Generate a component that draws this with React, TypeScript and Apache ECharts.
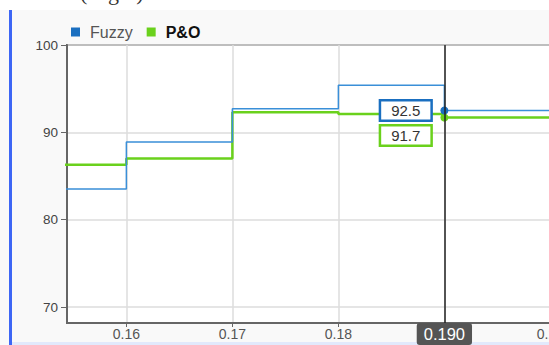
import React, { useEffect, useRef } from "react";
import * as echarts from "echarts";

// Duty-cycle step (x) vs. efficiency (%) for the two MPPT controllers
const dutyValues = [0.15, 0.16, 0.17, 0.18, 0.19, 0.21];
const fuzzyValues = [83.5, 88.9, 92.7, 95.4, 92.5, 92.5];
const poValues = [86.3, 87.0, 92.3, 92.1, 91.7, 91.7];
const xTicks = [0.16, 0.17, 0.18, 0.19, 0.2];
// the 0.19 tick text sits under the cursor's own label
const xTickLabels = [0.16, 0.17, 0.18, 0.2];
const yTicks = [70, 80, 90, 100];
const cursorX = 0.19;

const FUZZY = "#3a8fd8";
const FUZZY_DARK = "#1a6fc0";
const PO = "#6ad11c";

function seriesData(values: number[], color: string, offsetY: number) {
  return dutyValues.map((x, i) => {
    if (x !== cursorX) return { value: [x, values[i]] };
    return {
      value: [x, values[i]],
      symbol: "circle",
      symbolSize: 8,
      itemStyle: { color },
      label: {
        show: true,
        position: "left",
        distance: 10,
        offset: [0, offsetY],
        formatter: (p: any) => p.value[1].toFixed(1),
        backgroundColor: "#fff",
        borderColor: color,
        borderWidth: 2.5,
        padding: [2, 10, 1, 10],
        color: "#333",
        fontSize: 15,
        fontFamily: "Liberation Sans",
      },
    };
  });
}

export default function App() {
  const ref = useRef<HTMLDivElement>(null);

  useEffect(() => {
    if (!ref.current) return;
    const chart = echarts.init(ref.current, undefined, { renderer: "svg" });
    chart.setOption({
      animation: false,
      backgroundColor: "transparent",
      textStyle: { fontFamily: "Liberation Sans" },
      graphic: [
        {
          type: "rect",
          shape: { x: 9, y: 10, width: 3, height: 335 },
          style: { fill: "#3d66f5" },
        },
        {
          type: "rect",
          shape: { x: 12, y: 342, width: 537, height: 3 },
          style: { fill: "#e2e9fc" },
        },
        {
          type: "text",
          x: 80,
          y: -8,
          style: {
            text: "(Right)",
            font: '22px "Liberation Serif"',
            fill: "#333",
            verticalAlign: "middle",
          },
        },
      ],
      legend: {
        left: 66,
        top: 19,
        icon: "rect",
        itemWidth: 9,
        itemHeight: 9,
        itemGap: 14,
        textStyle: {
          fontSize: 16,
          color: "#555",
          rich: {
            a: { fontSize: 16, color: "#555", padding: [0, 0, 0, 5], fontFamily: "Liberation Sans" },
            b: {
              fontSize: 16,
              color: "#111",
              fontWeight: "bold",
              padding: [0, 0, 0, 5],
              fontFamily: "Liberation Sans",
            },
          },
        },
        formatter: (name: string) => (name === "P&O" ? "{b|P&O}" : "{a|Fuzzy}"),
        data: [
          { name: "Fuzzy", itemStyle: { color: FUZZY_DARK } },
          { name: "P&O", itemStyle: { color: PO } },
        ],
      },
      grid: {
        left: 67,
        top: 45,
        right: -30,
        bottom: 22,
        containLabel: false,
        outerBoundsMode: "none",
        show: true,
        backgroundColor: "#fff",
        borderColor: "#666",
        borderWidth: 2,
      },
      xAxis: {
        type: "value",
        min: 0.1544,
        max: 0.2027,
        axisLine: { show: true, lineStyle: { color: "#666", width: 2 } },
        axisTick: {
          show: true,
          customValues: xTicks,
          length: 4,
          lineStyle: { color: "#666" },
        },
        axisLabel: {
          customValues: xTickLabels,
          color: "#555",
          fontSize: 14,
          margin: 4,
          formatter: (v: number) => v.toFixed(2),
        },
        splitLine: { show: true, lineStyle: { color: "#ddd", width: 1.5 } },
        axisPointer: {
          show: true,
          status: "show",
          value: cursorX,
          snap: false,
          triggerTooltip: false,
          lineStyle: { color: "#222", width: 1.5, type: "solid" },
          label: {
            show: true,
            backgroundColor: "#555",
            color: "#fff",
            fontSize: 16.5,
            padding: [2, 7, 3, 7],
            margin: 0,
            formatter: (p: any) => Number(p.value).toFixed(3),
          },
        },
      },
      yAxis: {
        type: "value",
        min: 68.17,
        max: 100,
        axisLine: { show: true, lineStyle: { color: "#666", width: 2 } },
        axisTick: {
          show: true,
          customValues: yTicks,
          length: 6,
          lineStyle: { color: "#666" },
        },
        axisLabel: {
          customValues: yTicks,
          color: "#444",
          fontSize: 13.5,
          margin: 9,
        },
        splitLine: { show: true, lineStyle: { color: "#ddd", width: 1.5 } },
      },
      series: [
        {
          name: "Fuzzy",
          type: "line",
          step: "end",
          symbol: "none",
          showSymbol: true,
          color: FUZZY_DARK,
          lineStyle: { color: FUZZY, width: 1.5 },
          data: seriesData(fuzzyValues, FUZZY_DARK, 0),
          z: 3,
        },
        {
          name: "P&O",
          type: "line",
          step: "end",
          symbol: "none",
          showSymbol: true,
          color: PO,
          lineStyle: { color: PO, width: 2.5 },
          data: seriesData(poValues, PO, 18),
          z: 2,
        },
      ],
    });
    return () => chart.dispose();
  }, []);

  return (
    <div
      ref={ref}
      style={{
        position: "fixed",
        left: 0,
        top: 0,
        width: 549,
        height: 345,
        background: "linear-gradient(to bottom, #fff 0px, #fff 10px, #f9f9f9 10px, #f9f9f9 345px)",
      }}
    />
  );
}
